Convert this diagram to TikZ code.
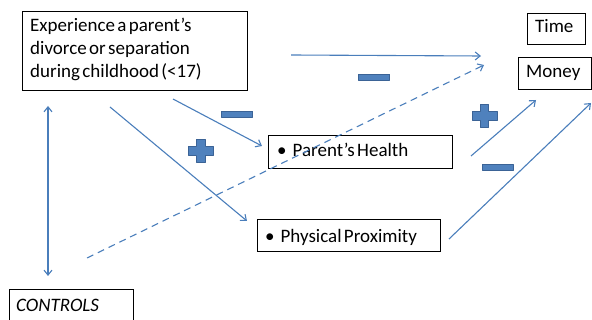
\documentclass[tikz,border=0pt]{standalone}
\usepackage{fontspec}
\setmainfont{Carlito}[WordSpace=0.55]
\usetikzlibrary{arrows.meta}
\definecolor{linkblue}{HTML}{4A7EBB}
\definecolor{signfill}{HTML}{4F81BD}
\definecolor{signedge}{HTML}{3B6396}
\tikzset{
  box/.style={draw=black, line width=1.2pt, inner sep=0pt, anchor=north west},
  lbl/.style={inner sep=0pt, anchor=base west, font=\fontsize{19}{23}\selectfont},
  link/.style={draw=linkblue, line width=1.1pt, -{Straight Barb[length=5pt,width=8pt]}},
  dashlink/.style={link, dash pattern=on 7pt off 5pt},
  signstyle/.style={fill=signfill, draw=signedge, line width=0.8pt, line join=round},
  plussign/.pic={\path[signstyle] (-12.5,-4.2) -- (-4.2,-4.2) -- (-4.2,-11.5) -- (4.2,-11.5) -- (4.2,-4.2) -- (12.5,-4.2) -- (12.5,4.2) -- (4.2,4.2) -- (4.2,11.5) -- (-4.2,11.5) -- (-4.2,4.2) -- (-12.5,4.2) -- cycle;},
  minussign/.pic={\path[signstyle] (-15.5,-3) rectangle (15.5,3);}
}
\begin{document}
\begin{tikzpicture}[x=1pt, y=-1pt]
\useasboundingbox (0,0) rectangle (592,320);
\clip (0,0) rectangle (592,320);

% boxes
\node[box, minimum width=225pt, minimum height=79pt] (cause) at (22,11) {};
\node[box, minimum width=58pt, minimum height=31pt] (time) at (527,13) {};
\node[box, minimum width=73pt, minimum height=32pt] (money) at (518,57) {};
\node[box, minimum width=184pt, minimum height=33pt] (health) at (268,135) {};
\node[box, minimum width=183pt, minimum height=32pt] (proximity) at (257,219) {};
\node[box, minimum width=124pt, minimum height=40pt] (controls) at (9,289) {};

% texts
\node[lbl] (cause1) at (30,32) {Experience a parent’s};
\node[lbl] (cause2) at (30,55) {divorce or separation};
\node[lbl] (cause3) at (30,78) {during childhood (<17)};
\node[lbl] (timetxt) at (535,33) {Time};
\node[lbl] (moneytxt) at (526,78) {Money};
\node[lbl] (healthtxt) at (277,157) {•\hspace{6pt}Parent’s Health};
\node[lbl] (proxtxt) at (265,243) {•\hspace{6pt}Physical Proximity};
\node[lbl, font=\fontsize{19}{23}\selectfont\itshape] (ctrltxt) at (16,312) {CONTROLS};

% connector ends
\coordinate (a1s) at (291,55);   \coordinate (a1e) at (481,56);
\coordinate (d1s) at (87,258);   \coordinate (d1e) at (484,65);
\coordinate (vtop) at (48,106);  \coordinate (vbot) at (48,276);
\coordinate (h1s) at (173,99);   \coordinate (h1e) at (262,146);
\coordinate (p1s) at (110,107);  \coordinate (p1e) at (247,221);
\coordinate (m1s) at (471,156);  \coordinate (m1e) at (536,100);
\coordinate (m2s) at (449,239);  \coordinate (m2e) at (591,103);

% connectors
\draw[link] (a1s) -- (a1e);
\draw[dashlink] (d1s) -- (d1e);
\draw[link, {Straight Barb[length=5pt,width=8pt]}-{Straight Barb[length=5pt,width=8pt]}] (vtop) -- (vbot);
\draw[link] (h1s) -- (h1e);
\draw[link] (p1s) -- (p1e);
\draw[link] (m1s) -- (m1e);
\draw[link] (m2s) -- (m2e);

% signs
\pic at (237,114) {minussign};
\pic at (201,151) {plussign};
\pic at (374,77) {minussign};
\pic at (484.5,116) {plussign};
\pic at (497.5,167.5) {minussign};
\end{tikzpicture}
\end{document}
